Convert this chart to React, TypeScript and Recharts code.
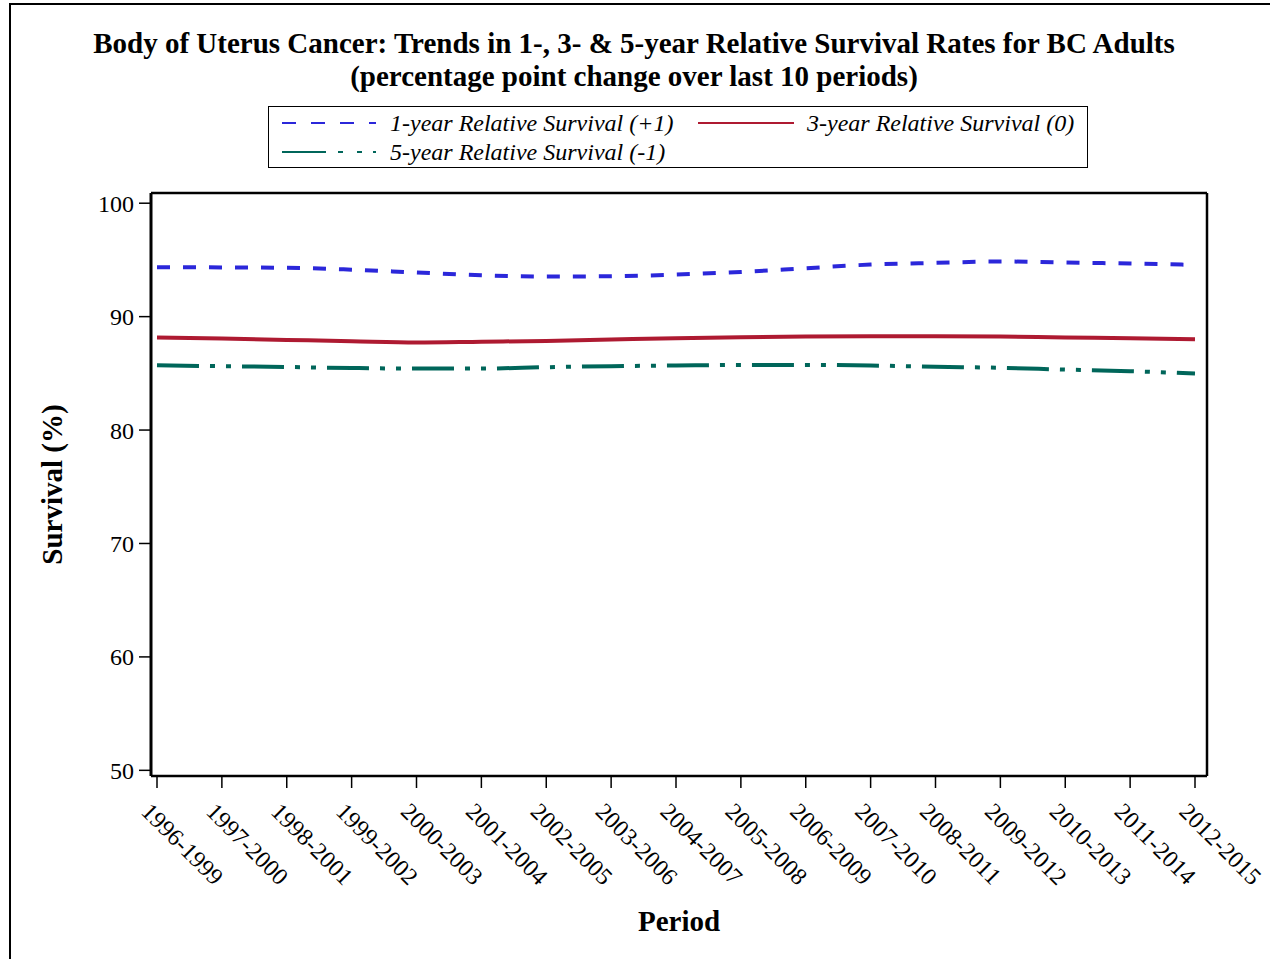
import React from "react";
import {
  LineChart,
  Line,
  XAxis,
  YAxis,
  Legend,
} from "recharts";

// values (survival %, by period)
const periods = [
  "1996-1999", "1997-2000", "1998-2001", "1999-2002", "2000-2003", "2001-2004",
  "2002-2005", "2003-2006", "2004-2007", "2005-2008", "2006-2009", "2007-2010",
  "2008-2011", "2009-2012", "2010-2013", "2011-2014", "2012-2015",
];
const oneYear = [
  94.36, 94.34, 94.31, 94.14, 93.89, 93.65, 93.54, 93.56, 93.71,
  93.94, 94.27, 94.59, 94.74, 94.86, 94.77, 94.68, 94.56,
];
const threeYear = [
  88.16, 88.07, 87.95, 87.83, 87.72, 87.79, 87.86, 87.98, 88.1,
  88.18, 88.24, 88.27, 88.27, 88.24, 88.16, 88.1, 88.0,
];
const fiveYear = [
  85.71, 85.63, 85.56, 85.47, 85.42, 85.42, 85.54, 85.63, 85.69,
  85.74, 85.74, 85.69, 85.58, 85.49, 85.33, 85.19, 84.98,
];
const yTicks = [50, 60, 70, 80, 90, 100];

const legendLabels = [
  "1-year Relative Survival (+1)",
  "3-year Relative Survival (0)",
  "5-year Relative Survival (-1)",
];

const BLUE = "#2B27DA";
const RED = "#AE1A31";
const GREEN = "#00665A";
const FONT = "'Liberation Serif', 'Times New Roman', serif";

const data = periods.map((p, i) => ({
  period: p,
  one: oneYear[i],
  three: threeYear[i],
  five: fiveYear[i],
}));

function XTick({ x, y, payload }: any) {
  return (
    <g transform={`translate(${x},${y})`}>
      <text
        transform="translate(-17,23) rotate(45)"
        textAnchor="start"
        fontSize={24}
        fontFamily={FONT}
        fill="#000"
      >
        {payload.value}
      </text>
    </g>
  );
}

function LegendBox() {
  const txt: React.CSSProperties = {
    position: "absolute",
    fontFamily: FONT,
    fontStyle: "italic",
    fontSize: 24,
    lineHeight: "26px",
    whiteSpace: "nowrap",
    color: "#000",
  };
  return (
    <div
      style={{
        position: "relative",
        width: 820,
        height: 62,
        border: "1px solid #000",
        boxSizing: "border-box",
        background: "#fff",
      }}
    >
      <svg width={820} height={62} style={{ position: "absolute", left: 0, top: 0 }}>
        <line x1={13} x2={107} y1={16} y2={16} stroke={BLUE} strokeWidth={2} strokeDasharray="14 15" />
        <line x1={429} x2={525} y1={16} y2={16} stroke={RED} strokeWidth={2} />
        <line x1={13} x2={107} y1={45} y2={45} stroke={GREEN} strokeWidth={2} strokeDasharray="44 12 5 14 5 11 5" />
      </svg>
      <span style={{ ...txt, left: 121, top: 3 }}>{legendLabels[0]}</span>
      <span style={{ ...txt, left: 538, top: 3 }}>{legendLabels[1]}</span>
      <span style={{ ...txt, left: 121, top: 32 }}>{legendLabels[2]}</span>
    </div>
  );
}

export default function App() {
  return (
    <div
      style={{
        position: "absolute",
        left: 0,
        top: 0,
        width: 1270,
        height: 959,
        overflow: "hidden",
        background: "#fff",
      }}
    >
      <div
        style={{
          position: "absolute",
          left: 9,
          top: 3,
          width: 1400,
          height: 1100,
          border: "2px solid #000",
        }}
      />
      <div
        style={{
          position: "absolute",
          left: 0,
          top: 27,
          width: 1268,
          textAlign: "center",
          fontFamily: FONT,
          fontWeight: "bold",
          fontSize: 29,
          lineHeight: "33px",
          color: "#000",
        }}
      >
        Body of Uterus Cancer: Trends in 1-, 3- &amp; 5-year Relative Survival Rates for BC Adults
        <br />
        (percentage point change over last 10 periods)
      </div>
      <div style={{ position: "absolute", left: 0, top: 0 }}>
        <LineChart
          width={1270}
          height={959}
          data={data}
          margin={{ top: 192, right: 62, bottom: 0, left: 0 }}
        >
          <XAxis
            dataKey="period"
            interval={0}
            padding={{ left: 6, right: 12 }}
            height={183}
            tickSize={12}
            tickMargin={2}
            tick={<XTick />}
            axisLine={{ stroke: "#000", strokeWidth: 2.5 }}
            tickLine={{ stroke: "#000", strokeWidth: 1.5 }}
            label={{
              content: ({ viewBox }: any) => (
                <text
                  x={viewBox.x + viewBox.width / 2}
                  y={viewBox.y + 145}
                  textAnchor="middle"
                  dominantBaseline="central"
                  fontFamily={FONT}
                  fontWeight="bold"
                  fontSize={29}
                  fill="#000"
                >
                  Period
                </text>
              ),
            }}
          />
          <XAxis
            xAxisId="top"
            dataKey="period"
            orientation="top"
            height={1}
            tick={false}
            tickLine={false}
            axisLine={{ stroke: "#000", strokeWidth: 2.5 }}
          />
          <YAxis
            domain={[49.5, 100.9]}
            ticks={yTicks}
            width={151}
            tickSize={12}
            tickMargin={5}
            tick={{ fontSize: 24, fontFamily: FONT, fill: "#000" }}
            axisLine={{ stroke: "#000", strokeWidth: 3 }}
            tickLine={{ stroke: "#000", strokeWidth: 1.5 }}
            label={{
              content: ({ viewBox }: any) => {
                const cx = viewBox.x + 52;
                const cy = viewBox.y + viewBox.height / 2;
                return (
                  <text
                    x={cx}
                    y={cy}
                    transform={`rotate(-90, ${cx}, ${cy})`}
                    textAnchor="middle"
                    dominantBaseline="central"
                    fontFamily={FONT}
                    fontWeight="bold"
                    fontSize={29}
                    fill="#000"
                  >
                    Survival (%)
                  </text>
                );
              },
            }}
          />
          <YAxis
            yAxisId="right"
            orientation="right"
            domain={[49.5, 100.9]}
            width={1}
            tick={false}
            tickLine={false}
            axisLine={{ stroke: "#000", strokeWidth: 2.5 }}
          />
          <Legend
            layout="horizontal"
            verticalAlign="middle"
            align="center"
            content={() => <LegendBox />}
            wrapperStyle={{ left: 268, top: 106, width: 820, height: 62 }}
          />
          <Line
            type="monotone"
            dataKey="one"
            name={legendLabels[0]}
            stroke={BLUE}
            strokeWidth={4}
            strokeDasharray="13 13"
            dot={false}
            isAnimationActive={false}
          />
          <Line
            type="monotone"
            dataKey="three"
            name={legendLabels[1]}
            stroke={RED}
            strokeWidth={4}
            dot={false}
            isAnimationActive={false}
          />
          <Line
            type="monotone"
            dataKey="five"
            name={legendLabels[2]}
            stroke={GREEN}
            strokeWidth={4}
            strokeDasharray="42 11 5 11 5 11"
            dot={false}
            isAnimationActive={false}
          />
        </LineChart>
      </div>
    </div>
  );
}
